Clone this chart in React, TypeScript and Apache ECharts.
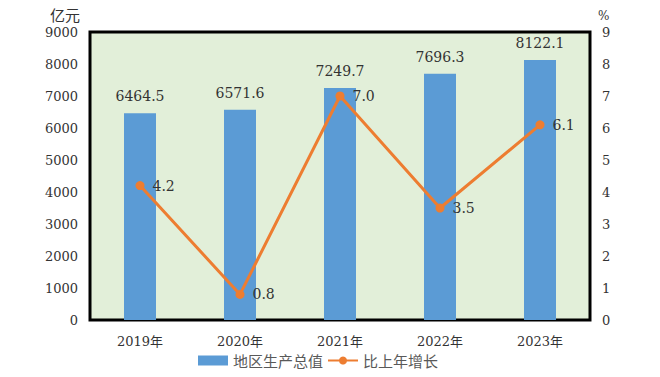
import React, { useEffect, useRef } from "react";
import * as echarts from "echarts";

const categories = ["2019年", "2020年", "2021年", "2022年", "2023年"];
const gdpValues = [6464.5, 6571.6, 7249.7, 7696.3, 8122.1];
const growthValues = [4.2, 0.8, 7.0, 3.5, 6.1];
const seriesNames = ["地区生产总值", "比上年增长"];

const FONT = "DejaVu Serif, Noto Sans CJK SC, serif";
const CJK = "Noto Sans CJK SC, sans-serif";
const TEXT = "#333333";

export default function App() {
  const ref = useRef<HTMLDivElement>(null);
  useEffect(() => {
    if (!ref.current) return;
    const chart = echarts.init(ref.current, undefined, { renderer: "svg" });
    chart.setOption({
      animation: false,
      backgroundColor: "#ffffff",
      textStyle: { fontFamily: FONT },
      grid: {
        left: 90,
        right: 70,
        top: 32,
        bottom: 57,
        show: true,
        backgroundColor: "#e2efd9",
        borderColor: "#000000",
        borderWidth: 3,
      },
      legend: {
        bottom: 4,
        left: 193,
        itemWidth: 30,
        itemHeight: 10,
        itemGap: 4,
        textStyle: { fontFamily: CJK, fontSize: 15, color: "#595959" },
        data: [
          { name: seriesNames[0], icon: "rect" },
          { name: seriesNames[1] },
        ],
      },
      xAxis: {
        type: "category",
        data: categories,
        axisLine: { show: false },
        axisTick: { show: false },
        axisLabel: { fontSize: 13, color: TEXT, margin: 15, fontFamily: FONT },
      },
      yAxis: [
        {
          type: "value",
          min: 0,
          max: 9000,
          interval: 1000,
          name: "亿元",
          nameLocation: "end",
          nameGap: 10,
          nameTextStyle: { fontSize: 15, color: TEXT, fontFamily: CJK, align: "right", padding: [0, 10, 0, 0] },
          axisLine: { show: false },
          axisTick: { show: false },
          splitLine: { show: false },
          axisLabel: { fontSize: 13, color: TEXT, margin: 12, fontFamily: FONT, formatter: (v: number) => String(v) },
        },
        {
          type: "value",
          min: 0,
          max: 9,
          interval: 1,
          name: "%",
          nameLocation: "end",
          nameGap: 10,
          nameTextStyle: { fontSize: 12, color: TEXT, fontFamily: FONT, align: "left", padding: [0, 0, 0, 8] },
          axisLine: { show: false },
          axisTick: { show: false },
          splitLine: { show: false },
          axisLabel: { fontSize: 13, color: TEXT, margin: 12, fontFamily: FONT, formatter: (v: number) => String(v) },
        },
      ],
      series: [
        {
          name: seriesNames[0],
          type: "bar",
          data: gdpValues,
          barWidth: 32,
          itemStyle: { color: "#5b9bd5" },
          label: {
            show: true,
            position: "top",
            distance: 10,
            fontSize: 14,
            color: TEXT,
            fontFamily: FONT,
            formatter: (p: any) => p.value.toFixed(1),
          },
        },
        {
          name: seriesNames[1],
          type: "line",
          yAxisIndex: 1,
          data: growthValues,
          symbol: "circle",
          symbolSize: 9,
          itemStyle: { color: "#ed7d31" },
          lineStyle: { color: "#ed7d31", width: 3 },
          label: {
            show: true,
            position: "right",
            distance: 8,
            fontSize: 14,
            color: TEXT,
            fontFamily: FONT,
            formatter: (p: any) => p.value.toFixed(1),
          },
        },
      ],
    });
    return () => chart.dispose();
  }, []);
  return (
    <div
      ref={ref}
      style={{ position: "fixed", left: 0, top: 0, width: 660, height: 377 }}
    />
  );
}
